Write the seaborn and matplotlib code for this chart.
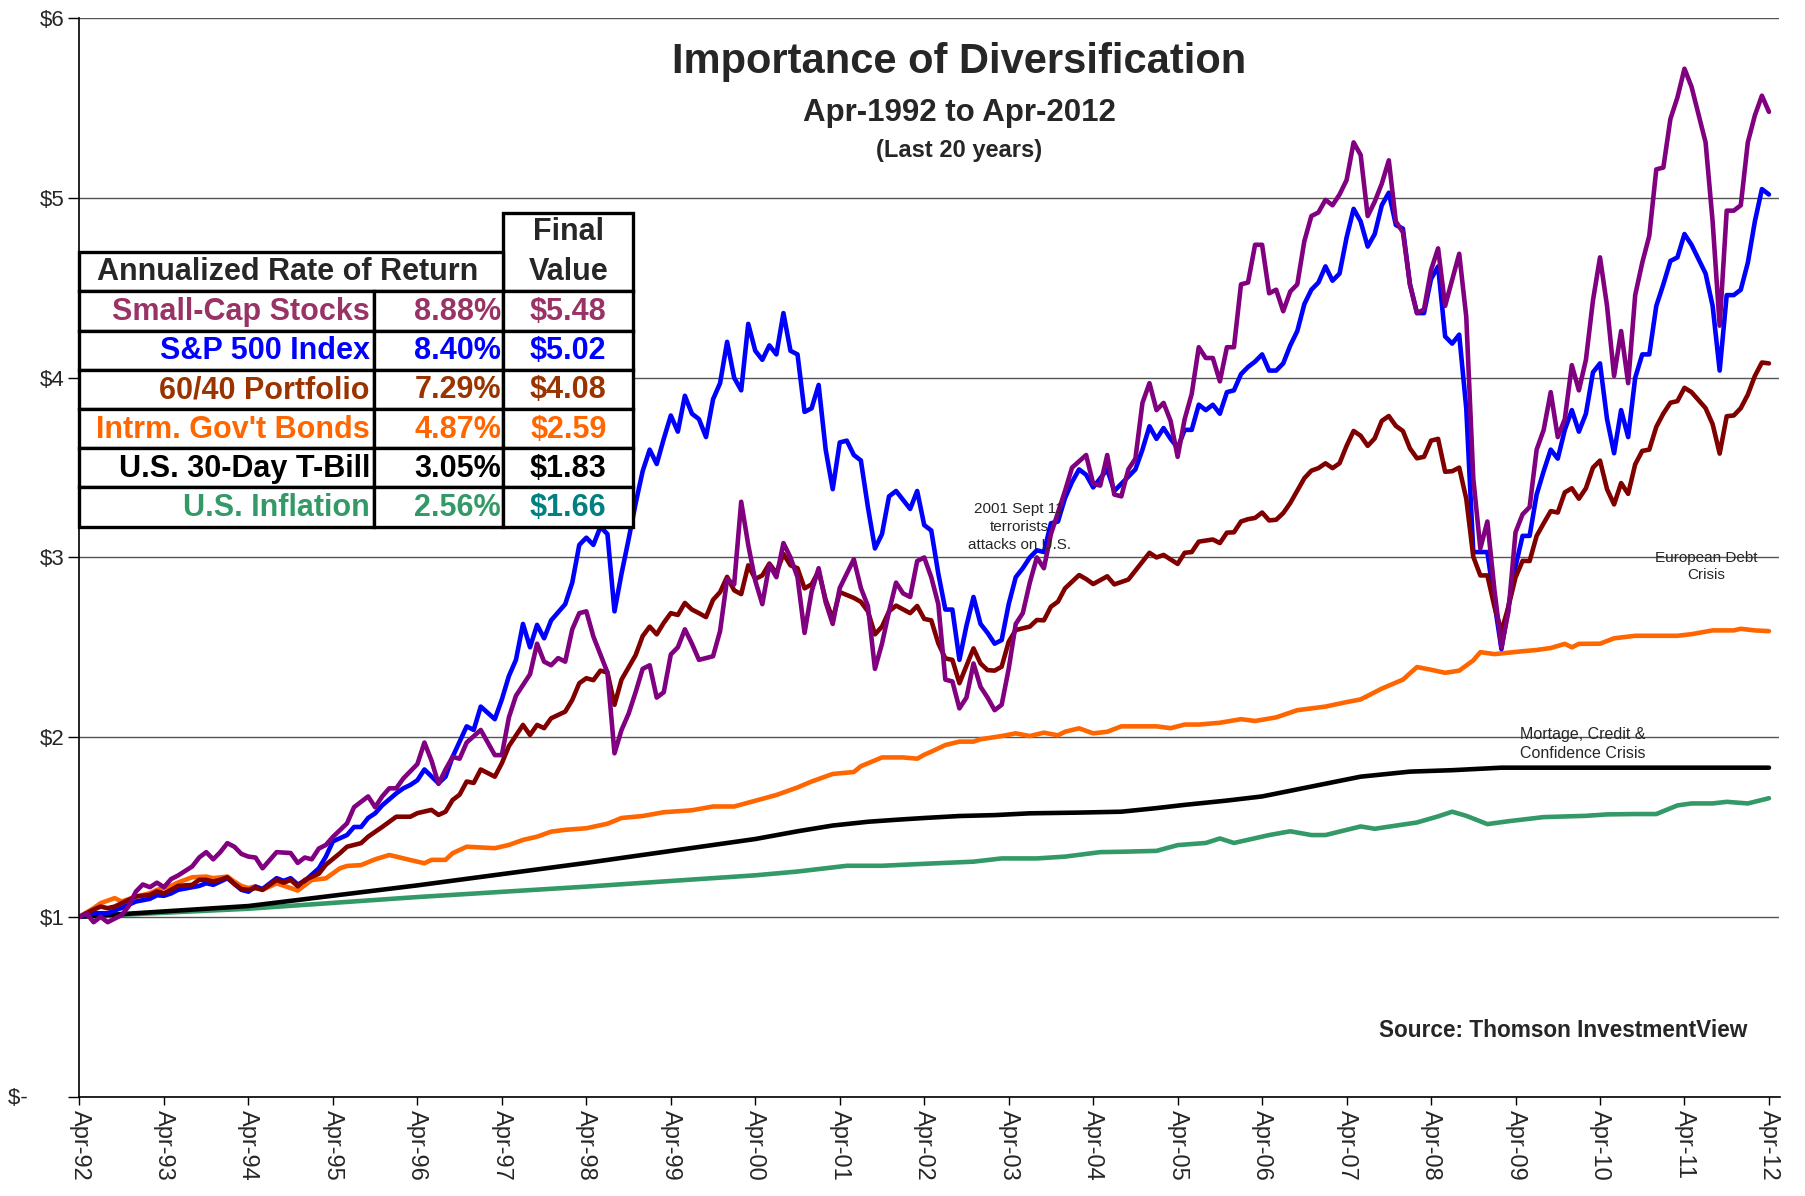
import pandas as pd
import matplotlib
matplotlib.use('Agg')
import matplotlib.pyplot as plt
import seaborn as sns
from matplotlib.patches import Rectangle

# growth of $1; x = months since Apr-1992
small_m = [0, 1, 2, 3, 4, 6, 7, 8, 9, 10, 11, 12, 13, 14, 16, 17, 18, 19, 20, 21, 22, 23, 24, 25, 26, 28, 30, 31,
           32, 33, 34, 35, 36, 38, 39, 41, 42, 43, 44, 45, 46, 47, 48, 49, 50, 51, 52, 53, 54, 55, 57, 59, 60, 61,
           62, 64, 65, 66, 67, 68, 69, 70, 71, 72, 73, 75, 76, 77, 78, 79, 80, 81, 82, 83, 84, 85, 86, 87, 88, 90,
           91, 92, 93, 94, 95, 96, 97, 98, 99, 100, 101, 102, 103, 104, 105, 106, 107, 108, 110, 111, 112, 113,
           114, 115, 116, 117, 118, 119, 120, 121, 122, 123, 124, 125, 126, 127, 128, 129, 130, 131, 132, 133,
           134, 135, 136, 137, 138, 139, 140, 141, 143, 144, 145, 146, 147, 148, 149, 150, 151, 152, 153, 154,
           155, 156, 157, 158, 159, 160, 161, 162, 163, 164, 165, 166, 167, 168, 169, 170, 171, 172, 173, 174,
           175, 176, 177, 178, 179, 180, 181, 182, 183, 184, 185, 186, 187, 188, 189, 190, 191, 192, 193, 194,
           196, 197, 198, 199, 200, 201, 202, 203, 204, 205, 206, 207, 208, 209, 210, 211, 212, 213, 214, 215,
           216, 217, 218, 219, 220, 221, 222, 223, 224, 225, 226, 227, 228, 229, 231, 232, 233, 234, 235, 236,
           237, 238, 239, 240]
small_v = [1.00, 1.02, 0.97, 1.00, 0.97, 1.01, 1.06, 1.14, 1.18, 1.165, 1.19, 1.165, 1.21, 1.23, 1.28, 1.33, 1.36,
           1.32, 1.36, 1.41, 1.39, 1.35, 1.335, 1.33, 1.27, 1.36, 1.355, 1.30, 1.33, 1.32, 1.38, 1.40, 1.445, 1.52,
           1.61, 1.67, 1.61, 1.67, 1.715, 1.715, 1.77, 1.81, 1.85, 1.97, 1.87, 1.74, 1.82, 1.89, 1.88, 1.97, 2.04,
           1.90, 1.90, 2.11, 2.23, 2.35, 2.52, 2.42, 2.40, 2.44, 2.42, 2.60, 2.69, 2.70, 2.56, 2.36, 1.91, 2.04,
           2.13, 2.25, 2.38, 2.40, 2.22, 2.25, 2.46, 2.50, 2.60, 2.52, 2.43, 2.45, 2.59, 2.88, 2.85, 3.31, 3.07,
           2.87, 2.74, 2.96, 2.89, 3.08, 3.00, 2.89, 2.58, 2.81, 2.94, 2.75, 2.63, 2.83, 2.99, 2.83, 2.73, 2.38,
           2.52, 2.70, 2.86, 2.80, 2.78, 2.98, 3.00, 2.89, 2.74, 2.32, 2.31, 2.16, 2.22, 2.41, 2.28, 2.22, 2.15,
           2.18, 2.38, 2.63, 2.69, 2.86, 3.00, 2.94, 3.13, 3.25, 3.37, 3.50, 3.57, 3.41, 3.40, 3.57, 3.35, 3.34,
           3.49, 3.55, 3.86, 3.97, 3.82, 3.86, 3.76, 3.56, 3.77, 3.91, 4.17, 4.11, 4.11, 3.98, 4.17, 4.17, 4.52,
           4.53, 4.74, 4.74, 4.47, 4.49, 4.37, 4.48, 4.52, 4.76, 4.90, 4.92, 4.99, 4.96, 5.02, 5.10, 5.31, 5.24,
           4.90, 4.98, 5.08, 5.21, 4.87, 4.81, 4.52, 4.36, 4.38, 4.60, 4.72, 4.40, 4.69, 4.34, 3.44, 3.05, 3.20,
           2.82, 2.50, 2.70, 3.14, 3.24, 3.28, 3.60, 3.71, 3.92, 3.67, 3.77, 4.07, 3.93, 4.10, 4.43, 4.67, 4.40,
           4.01, 4.26, 3.97, 4.46, 4.64, 4.79, 5.16, 5.17, 5.44, 5.56, 5.72, 5.62, 5.31, 4.87, 4.29, 4.93, 4.93,
           4.96, 5.31, 5.46, 5.57, 5.48]

sp_m = [0, 2, 4, 6, 8, 10, 11, 12, 13, 14, 16, 17, 18, 19, 20, 21, 22, 23, 24, 25, 26, 28, 29, 30, 31, 32, 34, 35,
        36, 38, 39, 40, 41, 42, 43, 45, 46, 47, 48, 49, 51, 52, 53, 55, 56, 57, 59, 60, 61, 62, 63, 64, 65, 66, 67,
        69, 70, 71, 72, 73, 74, 75, 76, 77, 78, 79, 80, 81, 82, 83, 84, 85, 86, 87, 88, 89, 90, 91, 92, 93, 94,
        95, 96, 97, 98, 99, 100, 101, 102, 103, 104, 105, 106, 107, 108, 109, 110, 111, 112, 113, 114, 115, 116,
        118, 119, 120, 121, 122, 123, 124, 125, 126, 127, 128, 129, 130, 131, 132, 133, 134, 135, 136, 137, 138,
        139, 140, 141, 142, 143, 144, 145, 146, 147, 148, 150, 151, 152, 153, 154, 155, 156, 157, 158, 159, 160,
        161, 162, 163, 164, 165, 166, 167, 168, 169, 170, 171, 172, 173, 174, 175, 176, 177, 178, 179, 180, 181,
        182, 183, 184, 185, 186, 187, 188, 189, 190, 191, 192, 193, 194, 195, 196, 197, 198, 199, 200, 201, 202,
        203, 204, 205, 206, 207, 208, 209, 210, 211, 212, 213, 214, 215, 216, 217, 218, 219, 220, 221, 222, 223,
        224, 225, 226, 227, 228, 229, 231, 232, 233, 234, 235, 236, 237, 238, 239, 240]
sp_v = [1.00, 1.02, 1.02, 1.05, 1.085, 1.10, 1.12, 1.117, 1.13, 1.15, 1.165, 1.172, 1.187, 1.178, 1.196, 1.215,
        1.183, 1.15, 1.14, 1.168, 1.155, 1.215, 1.20, 1.215, 1.18, 1.20, 1.27, 1.335, 1.42, 1.455, 1.50, 1.50,
        1.55, 1.576, 1.62, 1.687, 1.715, 1.734, 1.76, 1.82, 1.743, 1.78, 1.89, 2.06, 2.04, 2.17, 2.10, 2.21, 2.34,
        2.43, 2.63, 2.50, 2.625, 2.55, 2.65, 2.74, 2.86, 3.07, 3.11, 3.07, 3.17, 3.13, 2.70, 2.91, 3.10, 3.30,
        3.48, 3.60, 3.52, 3.66, 3.79, 3.70, 3.90, 3.80, 3.77, 3.67, 3.88, 3.97, 4.20, 4.00, 3.93, 4.30, 4.15,
        4.10, 4.18, 4.13, 4.36, 4.15, 4.13, 3.81, 3.83, 3.96, 3.60, 3.38, 3.64, 3.65, 3.57, 3.54, 3.28, 3.05,
        3.13, 3.34, 3.37, 3.27, 3.37, 3.18, 3.15, 2.91, 2.71, 2.71, 2.43, 2.62, 2.78, 2.63, 2.58, 2.52, 2.54,
        2.74, 2.89, 2.94, 3.00, 3.04, 3.03, 3.19, 3.20, 3.33, 3.42, 3.49, 3.46, 3.39, 3.44, 3.49, 3.37, 3.41,
        3.49, 3.60, 3.73, 3.66, 3.72, 3.66, 3.61, 3.71, 3.71, 3.85, 3.82, 3.85, 3.80, 3.92, 3.93, 4.02, 4.06,
        4.09, 4.13, 4.04, 4.04, 4.08, 4.18, 4.26, 4.41, 4.49, 4.53, 4.62, 4.54, 4.58, 4.78, 4.94, 4.87, 4.73,
        4.80, 4.96, 5.03, 4.85, 4.83, 4.52, 4.36, 4.36, 4.55, 4.62, 4.23, 4.19, 4.24, 3.83, 3.03, 3.03, 3.03,
        2.75, 2.49, 2.73, 2.95, 3.12, 3.12, 3.35, 3.48, 3.60, 3.55, 3.71, 3.82, 3.70, 3.80, 4.03, 4.08, 3.77,
        3.58, 3.82, 3.67, 4.00, 4.13, 4.13, 4.40, 4.52, 4.65, 4.67, 4.80, 4.74, 4.58, 4.40, 4.04, 4.46, 4.46,
        4.49, 4.64, 4.87, 5.05, 5.02]

mix_m = [0, 2, 3, 4, 5, 6, 8, 10, 11, 12, 13, 14, 16, 17, 18, 19, 20, 21, 22, 23, 24, 25, 26, 28, 29, 30, 31, 32,
         34, 35, 37, 38, 40, 41, 43, 45, 47, 48, 50, 51, 52, 53, 54, 55, 56, 57, 59, 60, 61, 63, 64, 65, 66, 67,
         69, 70, 71, 72, 73, 74, 75, 76, 77, 79, 80, 81, 82, 83, 84, 85, 86, 87, 88, 89, 90, 91, 92, 93, 94, 95,
         96, 97, 98, 99, 100, 101, 102, 103, 104, 105, 106, 107, 108, 110, 111, 112, 113, 114, 115, 116, 118,
         119, 120, 121, 122, 123, 124, 125, 127, 128, 129, 130, 131, 132, 133, 135, 136, 137, 138, 139, 140,
         141, 142, 143, 144, 146, 147, 149, 150, 152, 153, 154, 156, 157, 158, 159, 161, 162, 163, 164, 165,
         166, 167, 168, 169, 170, 171, 172, 173, 174, 175, 176, 177, 178, 179, 180, 181, 182, 183, 184, 185,
         186, 187, 188, 189, 190, 191, 192, 193, 194, 195, 196, 197, 198, 199, 200, 201, 202, 203, 204, 205,
         206, 207, 208, 209, 210, 211, 212, 213, 214, 215, 216, 217, 218, 219, 220, 221, 222, 223, 224, 225,
         226, 227, 228, 229, 231, 232, 233, 234, 235, 236, 237, 238, 239, 240]
mix_v = [1.00, 1.04, 1.057, 1.048, 1.057, 1.076, 1.113, 1.122, 1.141, 1.131, 1.15, 1.172, 1.178, 1.206, 1.206,
         1.196, 1.206, 1.22, 1.183, 1.154, 1.15, 1.16, 1.15, 1.205, 1.19, 1.205, 1.17, 1.205, 1.24, 1.29, 1.354,
         1.39, 1.41, 1.446, 1.50, 1.557, 1.557, 1.577, 1.595, 1.567, 1.585, 1.65, 1.68, 1.753, 1.745, 1.82, 1.78,
         1.855, 1.95, 2.068, 2.012, 2.068, 2.05, 2.105, 2.142, 2.207, 2.30, 2.328, 2.317, 2.37, 2.36, 2.18, 2.32,
         2.456, 2.562, 2.615, 2.572, 2.636, 2.69, 2.68, 2.747, 2.71, 2.69, 2.668, 2.764, 2.807, 2.892, 2.817,
         2.796, 2.956, 2.88, 2.90, 2.966, 2.913, 3.02, 2.956, 2.94, 2.828, 2.85, 2.924, 2.764, 2.658, 2.807,
         2.775, 2.753, 2.70, 2.572, 2.615, 2.70, 2.732, 2.69, 2.73, 2.658, 2.65, 2.522, 2.438, 2.43, 2.30, 2.494,
         2.41, 2.373, 2.37, 2.392, 2.531, 2.596, 2.615, 2.652, 2.65, 2.726, 2.754, 2.828, 2.865, 2.902, 2.88,
         2.852, 2.895, 2.85, 2.877, 2.927, 3.026, 3.00, 3.014, 2.964, 3.026, 3.03, 3.088, 3.10, 3.08, 3.138,
         3.14, 3.20, 3.213, 3.22, 3.25, 3.206, 3.21, 3.247, 3.303, 3.372, 3.441, 3.483, 3.497, 3.524, 3.497,
         3.524, 3.621, 3.704, 3.677, 3.621, 3.663, 3.76, 3.787, 3.732, 3.704, 3.607, 3.552, 3.56, 3.65, 3.66,
         3.477, 3.48, 3.50, 3.327, 3.004, 2.90, 2.90, 2.727, 2.589, 2.727, 2.889, 2.981, 2.98, 3.12, 3.19, 3.258,
         3.25, 3.362, 3.385, 3.327, 3.385, 3.50, 3.539, 3.38, 3.295, 3.414, 3.354, 3.518, 3.593, 3.60, 3.727,
         3.801, 3.861, 3.87, 3.944, 3.92, 3.831, 3.742, 3.578, 3.786, 3.79, 3.831, 3.906, 4.01, 4.085, 4.08]

bond_m = [0, 2, 3, 5, 6, 8, 10, 11, 13, 14, 16, 18, 19, 21, 22, 23, 24, 25, 26, 28, 30, 31, 33, 35, 37, 38, 40, 42,
          44, 45, 47, 49, 50, 52, 53, 55, 59, 61, 63, 65, 67, 69, 72, 75, 77, 80, 83, 87, 90, 93, 96, 99, 102, 104,
          107, 110, 111, 114, 117, 119, 120, 121, 123, 125, 127, 128, 131, 133, 135, 137, 139, 140, 142, 144, 146,
          148, 151, 153, 155, 157, 159, 162, 165, 167, 170, 173, 177, 180, 182, 185, 188, 190, 192, 194, 196, 198,
          199, 201, 203, 205, 207, 209, 211, 212, 213, 216, 218, 221, 224, 227, 229, 232, 235, 236, 238, 240]
bond_v = [1.00, 1.048, 1.076, 1.104, 1.085, 1.113, 1.131, 1.15, 1.172, 1.191, 1.22, 1.224, 1.215, 1.224, 1.196,
          1.172, 1.16, 1.17, 1.15, 1.186, 1.16, 1.146, 1.205, 1.214, 1.27, 1.283, 1.288, 1.32, 1.344, 1.335, 1.316,
          1.298, 1.317, 1.317, 1.354, 1.39, 1.382, 1.40, 1.428, 1.446, 1.474, 1.484, 1.493, 1.518, 1.55, 1.561,
          1.582, 1.593, 1.614, 1.614, 1.646, 1.678, 1.72, 1.753, 1.795, 1.806, 1.838, 1.887, 1.887, 1.88, 1.902,
          1.919, 1.956, 1.975, 1.975, 1.988, 2.006, 2.021, 2.006, 2.025, 2.01, 2.03, 2.049, 2.021, 2.03, 2.06,
          2.06, 2.06, 2.05, 2.07, 2.07, 2.08, 2.10, 2.09, 2.11, 2.15, 2.17, 2.195, 2.21, 2.27, 2.32, 2.39, 2.375,
          2.358, 2.37, 2.427, 2.473, 2.462, 2.47, 2.478, 2.485, 2.496, 2.519, 2.50, 2.519, 2.52, 2.55, 2.564,
          2.564, 2.564, 2.573, 2.594, 2.594, 2.603, 2.594, 2.59]

tbill_m = [0, 24, 48, 72, 96, 102, 107, 112, 116, 120, 125, 130, 135, 142, 148, 153, 157, 163, 168, 175, 182, 189,
           195, 202, 240]
tbill_v = [1.00, 1.06, 1.175, 1.30, 1.433, 1.476, 1.508, 1.529, 1.54, 1.55, 1.561, 1.566, 1.576, 1.58, 1.585, 1.605,
           1.623, 1.647, 1.67, 1.725, 1.78, 1.808, 1.816, 1.83, 1.83]

infl_m = [0, 24, 48, 72, 96, 102, 109, 114, 120, 127, 131, 136, 140, 145, 148, 153, 156, 160, 162, 164, 169, 172,
          175, 177, 182, 184, 190, 193, 195, 197, 200, 203, 208, 214, 217, 221, 224, 227, 229, 232, 234, 237, 240]
infl_v = [1.00, 1.045, 1.11, 1.168, 1.231, 1.252, 1.284, 1.284, 1.295, 1.307, 1.325, 1.325, 1.335, 1.36, 1.362,
          1.367, 1.399, 1.411, 1.436, 1.411, 1.455, 1.476, 1.455, 1.455, 1.503, 1.49, 1.525, 1.559, 1.585, 1.562,
          1.516, 1.532, 1.555, 1.562, 1.57, 1.572, 1.572, 1.62, 1.631, 1.631, 1.64, 1.631, 1.66]

# table contents
names = ['Small-Cap Stocks', 'S&P 500 Index', '60/40 Portfolio', "Intrm. Gov't Bonds", 'U.S. 30-Day T-Bill',
         'U.S. Inflation']
rates = ['8.88%', '8.40%', '7.29%', '4.87%', '3.05%', '2.56%']
finals = ['$5.48', '$5.02', '$4.08', '$2.59', '$1.83', '$1.66']
text_colors = ['#993366', '#0000FF', '#993300', '#FF6600', '#000000', '#339966']
final_colors = ['#993366', '#0000FF', '#993300', '#FF6600', '#000000', '#008080']

years = list(range(1992, 2013))

# long frame for seaborn, drawn bottom to top in this order
series = [('U.S. Inflation', infl_m, infl_v, '#339966'),
          ('U.S. 30-Day T-Bill', tbill_m, tbill_v, '#000000'),
          ("Intrm. Gov't Bonds", bond_m, bond_v, '#FF6600'),
          ('S&P 500 Index', sp_m, sp_v, '#0000FF'),
          ('60/40 Portfolio', mix_m, mix_v, '#800000'),
          ('Small-Cap Stocks', small_m, small_v, '#800080')]
frames = [pd.DataFrame({'month': m, 'value': v, 'series': n}) for n, m, v, c in series]
df = pd.concat(frames, ignore_index=True)
palette = {n: c for n, m, v, c in series}
order = [n for n, m, v, c in series]

sns.set_style('white')
plt.rcParams['font.family'] = ['Liberation Sans', 'DejaVu Sans']

W, H = 1806, 1196
fig = plt.figure(figsize=(W / 100, H / 100), dpi=100)
ax = fig.add_axes([79.5 / W, 1 - 1096.5 / H, (1779.5 - 79.5) / W, (1096.5 - 18.4) / H])

sns.lineplot(data=df, x='month', y='value', hue='series', hue_order=order, palette=palette,
             estimator=None, sort=False, lw=3.3, legend=False, ax=ax)

ax.set_xlim(0, 241.5)
ax.set_ylim(0, 6)
ax.set_xlabel('')
ax.set_ylabel('')
ax.set_yticks(range(7))
ax.set_yticklabels(['$-      '] + [f'${i}' for i in range(1, 7)], fontsize=16)
ax.set_xticks([12 * i for i in range(len(years))])
ax.set_xticklabels([f'Apr-{y % 100:02d}' for y in years], rotation=270, ha='center', va='top', fontsize=17)
ax.tick_params(axis='y', direction='out', length=8, width=1, color='black', pad=3, left=True)
ax.tick_params(axis='x', direction='out', length=6, width=1, color='black', pad=4, bottom=True)
ax.grid(axis='y', color='#555555', lw=1)
ax.grid(axis='x', visible=False)
for s in ['top', 'right']:
    ax.spines[s].set_visible(False)
for s in ['left', 'bottom']:
    ax.spines[s].set_color('black')
    ax.spines[s].set_linewidth(1.2)

# notes on the chart
ax.text(133.5, 3.17, '2001 Sept 11\nterrorists\nattacks on U.S.', ha='center', va='center', fontsize=11,
        linespacing=1.35)
ax.text(231.1, 2.95, 'European Debt\nCrisis', ha='center', va='center', fontsize=11, linespacing=1.35)
ax.text(204.6, 1.96, 'Mortage, Credit &\nConfidence Crisis', ha='left', va='center', fontsize=11.5,
        linespacing=1.35)
ax.text(236.9, 0.37, 'Source: Thomson InvestmentView', ha='right', va='center', fontsize=16.3,
        fontweight='bold')

fig.text(959 / W, 1 - 62 / H, 'Importance of Diversification', ha='center', va='center', fontsize=30,
         fontweight='bold')
fig.text(959 / W, 1 - 113 / H, 'Apr-1992 to Apr-2012', ha='center', va='center', fontsize=22.5,
         fontweight='bold')
fig.text(959 / W, 1 - 150 / H, '(Last 20 years)', ha='center', va='center', fontsize=17, fontweight='bold')

# returns table, drawn in its own axes laid in pixel units
tax = fig.add_axes([79.5 / W, 1 - 526.4 / H, (633.5 - 79.5) / W, (526.4 - 213) / H])
tax.set_xlim(0, 554)
tax.set_ylim(313.4, 0)
tax.axis('off')
c0, c1, c2, c3 = 0, 294.5, 423.5, 554
head_top, row_top, row_h = 39, 78.4, 39.2
blw = 2.4
fs = 22
tax.add_patch(Rectangle((c2, 0), c3 - c2, row_top, fc='white', ec='black', lw=blw, clip_on=False))
tax.add_patch(Rectangle((c0, head_top), c2 - c0, row_top - head_top, fc='white', ec='black', lw=blw,
                        clip_on=False))
tax.text((c0 + c2) / 2 - 4, (head_top + row_top) / 2, 'Annualized Rate of Return', ha='center', va='center',
         fontsize=fs, fontweight='bold')
tax.text((c2 + c3) / 2, 19.5, 'Final', ha='center', va='center', fontsize=fs, fontweight='bold')
tax.text((c2 + c3) / 2, 59, 'Value', ha='center', va='center', fontsize=fs, fontweight='bold')
for i in range(len(names)):
    y = row_top + i * row_h
    for a, b in [(c0, c1), (c1, c2), (c2, c3)]:
        tax.add_patch(Rectangle((a, y), b - a, row_h, fc='white', ec='black', lw=blw, clip_on=False))
    yc = y + row_h / 2 + 1
    tax.text(c1 - 4, yc, names[i], ha='right', va='center', fontsize=fs, fontweight='bold',
             color=text_colors[i])
    tax.text(c2 - 2, yc, rates[i], ha='right', va='center', fontsize=fs, fontweight='bold',
             color=text_colors[i])
    tax.text((c2 + c3) / 2, yc, finals[i], ha='center', va='center', fontsize=fs, fontweight='bold',
             color=final_colors[i])

fig.savefig('out.png', dpi=100, facecolor='white')
